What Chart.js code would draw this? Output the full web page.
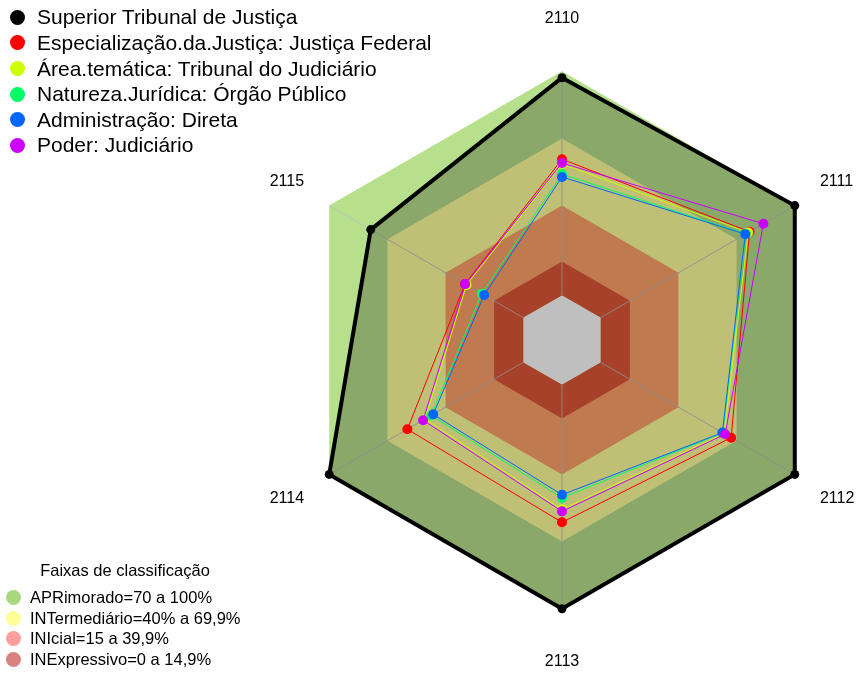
<!DOCTYPE html>
<html>
<head>
<meta charset="utf-8">
<script src="https://cdn.jsdelivr.net/npm/chart.js@4/dist/chart.umd.min.js"></script>
<style>
  html, body { margin: 0; padding: 0; background: #fff; overflow: hidden; }
  body { width: 863px; height: 675px; position: relative; font-family: "Liberation Sans", Arial, sans-serif; color: #000; }
  #wrap { position: absolute; left: 232px; top: 10px; width: 662px; height: 662px; }
  .leg1 { position: absolute; left: 0; top: 0; }
  .leg1 .row { position: absolute; left: 10px; height: 24px; display: flex; align-items: center; white-space: nowrap; font-size: 21px; }
  .leg1 .dot { width: 15px; height: 15px; border-radius: 50%; margin-right: 12px; flex: none; }
  .leg2 { position: absolute; left: 0; top: 0; }
  .leg2 .title { position: absolute; left: 0; width: 250px; top: 561px; text-align: center; font-size: 16.5px; white-space: nowrap; }
  .leg2 .row { position: absolute; left: 6px; height: 20px; display: flex; align-items: center; white-space: nowrap; font-size: 16.5px; }
  .leg2 .dot { width: 15px; height: 15px; border-radius: 50%; margin-right: 9px; flex: none; }
</style>
</head>
<body>
<div id="wrap"><canvas id="c" width="662" height="662" style="width:662px;height:662px"></canvas></div>
<div class="leg1" id="leg1"></div>
<div class="leg2" id="leg2"></div>
<script>
// ---- data ----
const axisLabels = ['2110', '2111', '2112', '2113', '2114', '2115'];
const seriesNames = [
  'Superior Tribunal de Justiça',
  'Especialização.da.Justiça: Justiça Federal',
  'Área.temática: Tribunal do Judiciário',
  'Natureza.Jurídica: Órgão Público',
  'Administração: Direta',
  'Poder: Judiciário'
];
const stj        = [97.1, 100, 100, 100, 100, 78.6];
const justFed    = [60.7, 76.7, 67.2, 61.4, 59.7, 30.0];
const areaTem    = [58.6, 76.0, 63.6, 55.6, 50.6, 29.2];
const natJur     = [54.1, 74.6, 62.9, 50.5, 47.4, 21.4];
const admDireta  = [52.8, 74.5, 62.7, 49.1, 46.4, 20.1];
const poderJud   = [59.0, 83.8, 64.1, 56.5, 51.6, 29.9];
const seriesColors = ['#000000', '#FF0000', '#CCFF00', '#00FF66', '#0066FF', '#CC00FF'];

const bandNames = ['APRimorado=70 a 100%', 'INTermediário=40% a 69,9%', 'INIcial=15 a 39,9%', 'INExpressivo=0 a 14,9%'];
const bandUpper = [100, 70, 40, 15];
const bandFill = ['#b7e08d', '#ffff9e', '#ffa36b', '#e05738'];
const bandLegendColors = ['#a9d97f', '#ffff99', '#ff9e9e', '#d98282'];
const legendTitle = 'Faixas de classificação';
const scaleMin = -20, scaleMax = 100;

// ---- datasets ----
const datasets = [];
bandUpper.forEach((u, i) => {
  datasets.push({
    label: bandNames[i],
    data: axisLabels.map(() => u),
    backgroundColor: bandFill[i],
    borderColor: 'rgba(0,0,0,0)',
    borderWidth: 0,
    pointRadius: 0,
    fill: 'origin',
    order: 20 - i
  });
});
const lastBandIndex = datasets.length - 1;
const seriesData = [stj, justFed, areaTem, natJur, admDireta, poderJud];
seriesData.forEach((d, i) => {
  const isStj = i === 0;
  datasets.push({
    label: seriesNames[i],
    data: d,
    borderColor: seriesColors[i],
    backgroundColor: isStj ? 'rgba(0,0,0,0.25)' : seriesColors[i],
    borderWidth: isStj ? 4 : 1,
    pointRadius: isStj ? 4.5 : 5,
    pointBorderWidth: 0,
    pointBackgroundColor: seriesColors[i],
    fill: isStj ? 'start' : false,
    order: 10 - i
  });
});

const axisLinesPlugin = {
  id: 'axisLines',
  afterDatasetDraw(chart, args) {
    if (args.index !== lastBandIndex) return;
    const s = chart.scales.r, ctx = chart.ctx;
    ctx.save();
    ctx.strokeStyle = 'rgba(190,190,190,0.85)';
    ctx.lineWidth = 1;
    for (let i = 0; i < axisLabels.length; i++) {
      const a = s.getPointPositionForValue(i, 0);
      const b = s.getPointPositionForValue(i, scaleMax);
      ctx.beginPath(); ctx.moveTo(a.x, a.y); ctx.lineTo(b.x, b.y); ctx.stroke();
    }
    ctx.restore();
  }
};

new Chart(document.getElementById('c'), {
  type: 'radar',
  data: { labels: axisLabels, datasets },
  options: {
    responsive: false,
    animation: false,
    events: [],
    layout: { padding: 0 },
    elements: { line: { tension: 0 } },
    plugins: { legend: { display: false }, tooltip: { enabled: false } },
    scales: {
      r: {
        min: scaleMin, max: scaleMax,
        ticks: { display: false },
        grid: { display: false },
        angleLines: { display: false },
        pointLabels: {
          display: true,
          color: '#000',
          font: { family: '"Liberation Sans", Arial, sans-serif', size: 16 },
          padding: (ctx) => (ctx.index % 3 === 0 ? 43 : 29)
        }
      }
    }
  },
  plugins: [axisLinesPlugin]
});

// ---- HTML legends ----
const leg1 = document.getElementById('leg1');
seriesNames.forEach((n, i) => {
  const r = document.createElement('div');
  r.className = 'row';
  r.style.top = (5.3 + i * 25.6) + 'px';
  r.innerHTML = '<span class="dot" style="background:' + seriesColors[i] + '"></span><span></span>';
  r.lastChild.textContent = n;
  leg1.appendChild(r);
});
const leg2 = document.getElementById('leg2');
const t = document.createElement('div');
t.className = 'title'; t.textContent = legendTitle; leg2.appendChild(t);
bandNames.forEach((n, i) => {
  const r = document.createElement('div');
  r.className = 'row';
  r.style.top = (587.7 + i * 20.5) + 'px';
  r.innerHTML = '<span class="dot" style="background:' + bandLegendColors[i] + '"></span><span></span>';
  r.lastChild.textContent = n;
  leg2.appendChild(r);
});
</script>
</body>
</html>
